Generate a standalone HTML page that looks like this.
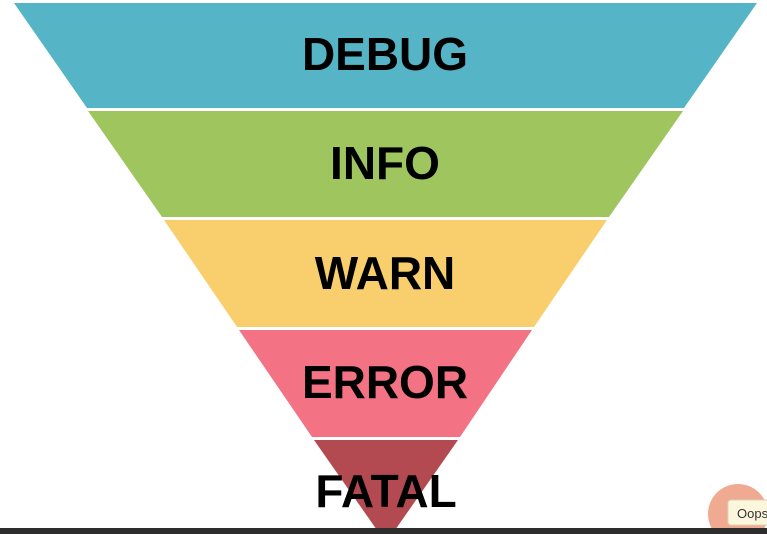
<!DOCTYPE html>
<html><head><style>
html,body{margin:0;padding:0;background:#fff;width:767px;height:534px;overflow:hidden;position:relative;font-family:"Liberation Sans",sans-serif}
svg{position:absolute;left:0;top:0}
.t{font-family:"Liberation Sans",sans-serif;font-weight:bold;font-size:46px;fill:#000;text-anchor:middle}
</style></head><body>
<svg width="767" height="534" viewBox="0 0 767 534">
<polygon points="14,3 757,3 684,108 87,108" fill="#55b4c5"/>
<polygon points="88,111 683,111 609,217 162,217" fill="#9fc55f"/>
<polygon points="164,220 607,220 534,327 237,327" fill="#f8cf6c"/>
<polygon points="239,330 532,330 460,437 312,437" fill="#f37283"/>
<polygon points="314,440 458,440 386,543" fill="#b44a51"/>
<text class="t" x="385" y="70">DEBUG</text>
<text class="t" x="385" y="179">INFO</text>
<text class="t" x="385" y="289">WARN</text>
<text class="t" x="385" y="398">ERROR</text>
<text class="t" x="386" y="507">FATAL</text>
<circle cx="738" cy="514" r="30" fill="#f0aa92"/>
<rect x="728" y="500" width="45" height="25" rx="3" fill="#fcf7dc" stroke="#d8d4b8"/>
<text x="737" y="518" font-family="Liberation Sans,sans-serif" font-size="13" fill="#333">Oops</text>
<rect x="0" y="528" width="767" height="6" fill="#2d2d2d"/>
</svg>
</body></html>
